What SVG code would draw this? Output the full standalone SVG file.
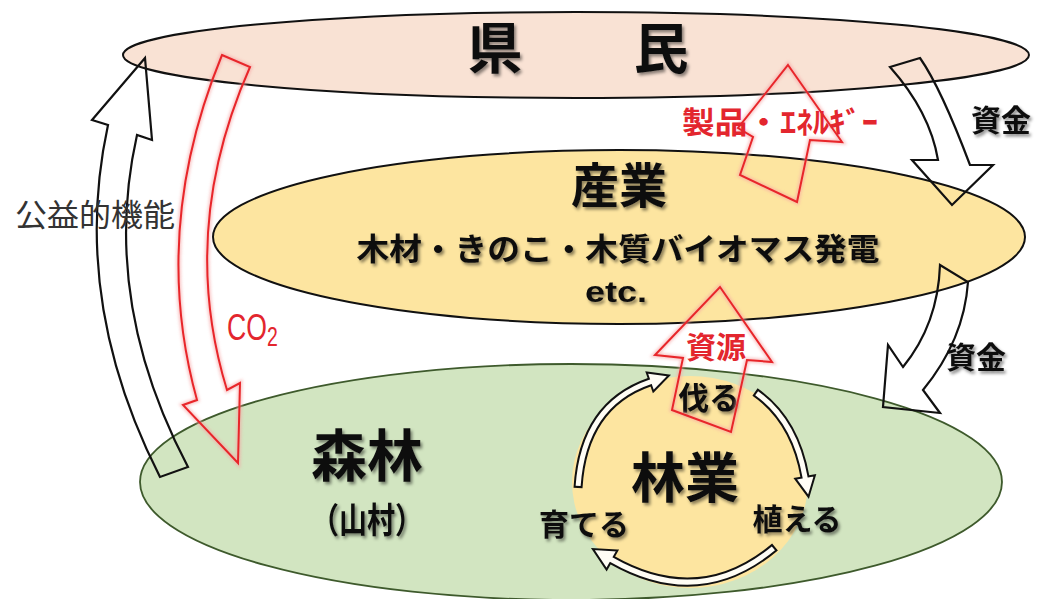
<svg xmlns="http://www.w3.org/2000/svg" width="1037" height="599" viewBox="0 0 1037 599">
<defs>
<filter id="sh" x="-10%" y="-20%" width="130%" height="150%">
<feDropShadow dx="2" dy="2.5" stdDeviation="1.6" flood-color="#000" flood-opacity="0.45"/>
</filter>
<filter id="gl" x="-10%" y="-10%" width="120%" height="120%">
<feGaussianBlur stdDeviation="1.5"/>
</filter>
<style>
.jp{font-family:"Noto Sans CJK JP","Noto Sans",sans-serif;text-anchor:middle}
.b{font-weight:700;fill:#111}
.r{font-weight:700;fill:#e3262e}
.ell{stroke:#111;stroke-width:2}
.blk{fill:none;stroke:#111;stroke-width:2.2;stroke-linejoin:miter}
.rd{fill:none;stroke:#e8262a;stroke-width:2;stroke-linejoin:miter}
.rg{fill:none;stroke:#f6a3a3;stroke-width:5;opacity:0.6}
.co{fill:none;stroke:#111;stroke-width:9}
.ci{fill:none;stroke:#fffdf5;stroke-width:5;stroke-dasharray:0 2 2000}
.hd{fill:#fffdf5;stroke:#111;stroke-width:2;stroke-linejoin:miter}
</style>
</defs>
<rect width="1037" height="599" fill="#fff"/>

<g id="kenmin">
<ellipse cx="576" cy="55" rx="453" ry="43" fill="#f9e2d4" class="ell"/>
<text class="jp b" x="495" y="68" font-size="55" filter="url(#sh)">県</text>
<text class="jp b" x="661" y="68" font-size="55" filter="url(#sh)">民</text>
</g>

<g id="sangyo">
<ellipse cx="619" cy="237" rx="406" ry="87" fill="#fde5a0" class="ell"/>
<text class="jp b" x="619" y="203" font-size="48" filter="url(#sh)">産業</text>
<text class="jp b" x="618" y="260" font-size="31" textLength="523" lengthAdjust="spacingAndGlyphs" filter="url(#sh)">木材・きのこ・木質バイオマス発電</text>
<text x="616" y="302" font-size="30" font-family="Liberation Sans, Arial, sans-serif" font-weight="700" fill="#111" text-anchor="middle" textLength="62" lengthAdjust="spacingAndGlyphs" filter="url(#sh)">etc.</text>
</g>

<g id="shinrin">
<ellipse cx="571" cy="482" rx="431" ry="118" fill="#d2e5c1" stroke="#3e5a2c" stroke-width="1.8"/>
<text class="jp b" x="367" y="476" font-size="56" filter="url(#sh)">森林</text>
<text class="jp b" x="367" y="533" font-size="35" textLength="112" lengthAdjust="spacingAndGlyphs" filter="url(#sh)">（山村）</text>
</g>

<g id="ringyo">
<ellipse cx="690" cy="482" rx="118" ry="106" fill="#fde5a0"/>
<text class="jp b" x="685" y="498" font-size="54" filter="url(#sh)">林業</text>
<text class="jp b" x="709" y="409" font-size="31" filter="url(#sh)">伐る</text>
<text class="jp b" x="797" y="530" font-size="30" filter="url(#sh)">植える</text>
<text class="jp b" x="584" y="535" font-size="30" filter="url(#sh)">育てる</text>
</g>

<g id="connectors">
<!-- 公益的機能 -->
<path class="blk" d="M160,477 Q70,300 108,125 L92,120 L145,58 L152,140 L137,135 Q100,300 188,467 Z"/>
<!-- CO2 -->
<path class="rg" filter="url(#gl)" d="M222,55 L250,67 Q178,230 227,390 L240,383 L238,463 L183,405 L197,400 Q150,230 222,55 Z"/>
<path class="rd" d="M222,55 L250,67 Q178,230 227,390 L240,383 L238,463 L183,405 L197,400 Q150,230 222,55 Z"/>
<!-- 資金 top -->
<path class="blk" d="M890,67 L920,58 Q941,88 970,165 L993,165 L952,205 L912,160 L938,160 Q930,112 890,67 Z"/>
<!-- 資金 lower -->
<path class="blk" d="M940,265 L968,282 Q964,340 923,390 L940,413 L883,407 L888,345 L903,367 Q938,324 940,265 Z"/>
<!-- 製品・エネルギー -->
<path class="rg" filter="url(#gl)" d="M788,65 L842,142 L810,140 L797,202 L740,175 L753,137 L738,128 Z"/>
<path class="rd" d="M788,65 L842,142 L810,140 L797,202 L740,175 L753,137 L738,128 Z"/>
<!-- 資源 -->
<path class="rg" filter="url(#gl)" d="M720,287 L772,362 L747,360 L731,432 L672,410 L683,358 L655,355 Z"/>
<path class="rd" d="M720,287 L772,362 L747,360 L731,432 L672,410 L683,358 L655,355 Z"/>

<!-- cycle arrows -->
<path class="co" d="M578,488 Q583,405 650,382"/>
<polygon class="hd" points="653.3,391.5 668.9,375.5 646.7,372.5"/>
<path class="ci" d="M578,488 Q583,405 650,382 l2.8,-1"/>

<path class="co" d="M755,392 Q795,420 805,477"/>
<polygon class="hd" points="814.9,475.3 808.5,496.7 795.2,478.7"/>
<path class="ci" d="M755,392 Q795,420 805,477 l0.5,2.8"/>

<path class="co" d="M775,547 Q700,610 612,560"/>
<polygon class="hd" points="617.4,550.4 592.9,549.1 606.6,569.6"/>
<path class="ci" d="M775,547 Q700,610 612,560 l-2.6,-1.5"/>
</g>

<g id="labels">
<text class="jp" x="95" y="226" font-size="31" fill="#333" textLength="160" lengthAdjust="spacingAndGlyphs">公益的機能</text>
<text transform="translate(227,340) scale(0.72,1)" font-size="37" font-family="Liberation Sans, Arial, sans-serif" fill="#e3262e">CO<tspan dy="6" font-size="27">2</tspan></text>
<text class="jp r" x="780" y="133" font-size="30" textLength="196" lengthAdjust="spacingAndGlyphs">製品・ｴﾈﾙｷﾞｰ</text>
<text class="jp r" x="716" y="358" font-size="30">資源</text>
<text class="jp b" x="1001" y="131" font-size="30" filter="url(#sh)">資金</text>
<text class="jp b" x="976" y="368" font-size="30" filter="url(#sh)">資金</text>
</g>
</svg>
